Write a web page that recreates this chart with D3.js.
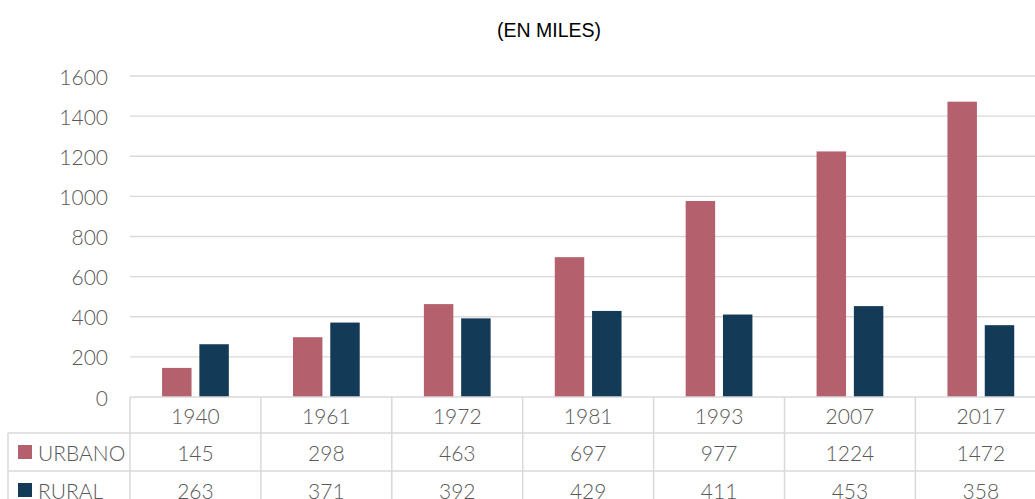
<!DOCTYPE html>
<html>
<head>
<meta charset="utf-8">
<script src="https://cdn.jsdelivr.net/npm/d3@7"></script>
<style>
  body { margin: 0; background: #fff; }
  svg { display: block; }
</style>
</head>
<body>
<svg id="chart" width="1035" height="499"></svg>
<script>
// data
const years = ["1940", "1961", "1972", "1981", "1993", "2007", "2017"]
const series = ["URBANO", "RURAL"]
const urbano = [145, 298, 463, 697, 977, 1224, 1472]
const rural = [263, 371, 392, 429, 411, 453, 358]
const yTicks = [0, 200, 400, 600, 800, 1000, 1200, 1400, 1600]
const colours = ["#b5606d", "#133a56"]

const values = { URBANO: urbano, RURAL: rural }

let chartW = 1035
let plotLeft = 130
let band = 130.9
let plotTop = 76
let plotBottom = 397
let rowH = [36, 38, 38]
let font = "Lato, 'Open Sans', sans-serif"
let fontSize = "21px"
let textCol = "#595959"
let lineCol = "#d9d9d9"

const svg = d3.select("#chart")

let x0 = d3.scaleBand()
	.domain(years)
	.range([plotLeft, plotLeft + band * years.length])

let x1 = d3.scaleBand()
	.domain(series)
	.range([band * 0.245, band * 0.755])
	.paddingInner(0.21)

let colour = d3.scaleOrdinal().domain(series).range(colours)

let y = d3.scaleLinear()
	.domain([0, 1600])
	.range([plotBottom, plotTop])

// title
svg.append("text")
	.attr("x", 549)
	.attr("y", 37)
	.attr("text-anchor", "middle")
	.style("font-family", "Arial, 'Liberation Sans', sans-serif")
	.style("font-size", "19.5px")
	.attr("fill", "#000")
	.text("(EN MILES)")

// gridlines
svg.append("g")
	.selectAll("line")
	.data(yTicks.filter(d => d > 0))
	.join("line")
	.attr("x1", plotLeft)
	.attr("x2", chartW)
	.attr("y1", d => y(d))
	.attr("y2", d => y(d))
	.attr("stroke", lineCol)
	.attr("stroke-width", 1.3)

// y axis labels
svg.append("g")
	.selectAll("text")
	.data(yTicks)
	.join("text")
	.attr("x", 108)
	.attr("y", d => y(d))
	.attr("text-anchor", "end")
	.attr("dominant-baseline", "central")
	.style("font-family", font)
	.style("font-weight", 300)
	.style("font-size", fontSize)
	.attr("fill", textCol)
	.text(d => d)

// bars
let groups = svg.append("g")
	.selectAll("g")
	.data(years)
	.join("g")
	.attr("transform", d => `translate(${x0(d)},0)`)

groups.selectAll("rect")
	.data((d, i) => series.map(s => ({ key: s, value: values[s][i] })))
	.join("rect")
	.attr("x", d => x1(d.key))
	.attr("width", x1.bandwidth())
	.attr("y", d => y(d.value))
	.attr("height", d => y(0) - y(d.value))
	.attr("fill", d => colour(d.key))

// data table
let table = svg.append("g")
let r1 = plotBottom + rowH[0]
let r2 = r1 + rowH[1]
let r3 = r2 + rowH[2]
let tableLeft = 8
let tableRight = plotLeft + band * years.length

let hlines = [
	{ y: plotBottom, x1: plotLeft },
	{ y: r1, x1: tableLeft },
	{ y: r2, x1: tableLeft },
	{ y: r3, x1: tableLeft },
]
table.selectAll("line.h")
	.data(hlines)
	.join("line")
	.attr("class", "h")
	.attr("x1", d => d.x1)
	.attr("x2", tableRight)
	.attr("y1", d => d.y)
	.attr("y2", d => d.y)
	.attr("stroke", lineCol)
	.attr("stroke-width", 1.5)

let vlines = years.map(d => x0(d)).concat([tableRight])
table.selectAll("line.v")
	.data(vlines)
	.join("line")
	.attr("class", "v")
	.attr("x1", d => d)
	.attr("x2", d => d)
	.attr("y1", plotBottom)
	.attr("y2", r3)
	.attr("stroke", lineCol)
	.attr("stroke-width", 1.5)

table.append("line")
	.attr("x1", tableLeft)
	.attr("x2", tableLeft)
	.attr("y1", r1)
	.attr("y2", r3)
	.attr("stroke", lineCol)
	.attr("stroke-width", 1.5)

let cellText = sel => sel
	.attr("text-anchor", "middle")
	.attr("dominant-baseline", "central")
	.style("font-family", font)
	.style("font-weight", 300)
	.style("font-size", fontSize)
	.attr("fill", textCol)

// header row
table.append("g")
	.selectAll("text")
	.data(years)
	.join("text")
	.attr("x", d => x0(d) + band / 2)
	.attr("y", (plotBottom + r1) / 2)
	.call(cellText)
	.text(d => d)

// series rows
let rowMid = [(r1 + r2) / 2, (r2 + r3) / 2]
series.forEach((s, j) => {
	let row = table.append("g")
	row.selectAll("text")
		.data(values[s])
		.join("text")
		.attr("x", (d, i) => x0(years[i]) + band / 2)
		.attr("y", rowMid[j])
		.call(cellText)
		.text(d => d)

	row.append("rect")
		.attr("x", 18)
		.attr("y", rowMid[j] - 7)
		.attr("width", 14)
		.attr("height", 14)
		.attr("fill", colour(s))

	row.append("text")
		.attr("x", 38)
		.attr("y", rowMid[j])
		.call(cellText)
		.attr("text-anchor", "start")
		.text(s)
})
</script>
</body>
</html>
